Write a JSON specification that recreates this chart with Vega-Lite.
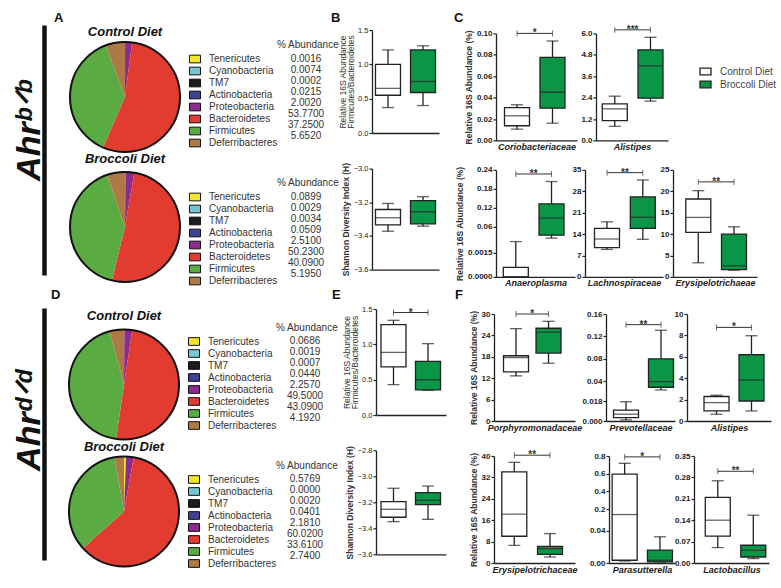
{
"$schema":"https://vega.github.io/schema/vega-lite/v6.json",
"padding":{"left":12,"top":12,"right":2,"bottom":2},
"config":{
 "font":"Liberation Sans",
 "view":{"stroke":null},
 "axis":{"grid":false,"domainColor":"#222","tickColor":"#222","domainWidth":1.3,"tickWidth":1.2,"tickSize":3,"labelColor":"#222","titleColor":"#333","labelFont":"Liberation Sans","titleFont":"Liberation Sans","labelOverlap":false},
 "axisX":{"labels":false,"ticks":false,"titleFontStyle":"italic","titleFontWeight":"bold","titleFontSize":9,"titlePadding":2,"titleColor":"#222"},
 "axisY":{"labelFontSize":8,"labelFontWeight":"bold","labelPadding":1,"labelOverlap":false,"tickCount":12,"titleFontSize":8.5,"titleFontWeight":"bold","titlePadding":3},
 "title":{"font":"Liberation Sans","fontWeight":"bold","color":"#111"},
 "legend":{"labelFont":"Liberation Sans","titleFont":"Liberation Sans"}
},
"datasets":{
 "pAc":[{"phylum":"Tenericutes","pct":0.0016,"val":"0.0016","ord":1},{"phylum":"Cyanobacteria","pct":0.0074,"val":"0.0074","ord":2},{"phylum":"TM7","pct":0.0002,"val":"0.0002","ord":3},{"phylum":"Actinobacteria","pct":0.0215,"val":"0.0215","ord":4},{"phylum":"Proteobacteria","pct":2.002,"val":"2.0020","ord":5},{"phylum":"Bacteroidetes","pct":53.77,"val":"53.7700","ord":6},{"phylum":"Firmicutes","pct":37.25,"val":"37.2500","ord":7},{"phylum":"Deferribacteres","pct":5.652,"val":"5.6520","ord":8}],
 "pAb":[{"phylum":"Tenericutes","pct":0.0899,"val":"0.0899","ord":1},{"phylum":"Cyanobacteria","pct":0.0029,"val":"0.0029","ord":2},{"phylum":"TM7","pct":0.0034,"val":"0.0034","ord":3},{"phylum":"Actinobacteria","pct":0.0509,"val":"0.0509","ord":4},{"phylum":"Proteobacteria","pct":2.51,"val":"2.5100","ord":5},{"phylum":"Bacteroidetes","pct":50.23,"val":"50.2300","ord":6},{"phylum":"Firmicutes","pct":40.09,"val":"40.0900","ord":7},{"phylum":"Deferribacteres","pct":5.195,"val":"5.1950","ord":8}],
 "pDc":[{"phylum":"Tenericutes","pct":0.0686,"val":"0.0686","ord":1},{"phylum":"Cyanobacteria","pct":0.0019,"val":"0.0019","ord":2},{"phylum":"TM7","pct":0.0007,"val":"0.0007","ord":3},{"phylum":"Actinobacteria","pct":0.044,"val":"0.0440","ord":4},{"phylum":"Proteobacteria","pct":2.257,"val":"2.2570","ord":5},{"phylum":"Bacteroidetes","pct":49.5,"val":"49.5000","ord":6},{"phylum":"Firmicutes","pct":43.09,"val":"43.0900","ord":7},{"phylum":"Deferribacteres","pct":4.192,"val":"4.1920","ord":8}],
 "pDb":[{"phylum":"Tenericutes","pct":0.5769,"val":"0.5769","ord":1},{"phylum":"Cyanobacteria","pct":0,"val":"0.0000","ord":2},{"phylum":"TM7","pct":0.002,"val":"0.0020","ord":3},{"phylum":"Actinobacteria","pct":0.0401,"val":"0.0401","ord":4},{"phylum":"Proteobacteria","pct":2.181,"val":"2.1810","ord":5},{"phylum":"Bacteroidetes","pct":60.02,"val":"60.0200","ord":6},{"phylum":"Firmicutes","pct":33.61,"val":"33.6100","ord":7},{"phylum":"Deferribacteres","pct":2.74,"val":"2.7400","ord":8}]
},
"resolve":{"scale":{"color":"independent","fill":"independent","shape":"independent"},"legend":{"color":"independent","fill":"independent","shape":"independent"}},
"spacing":1,
"vconcat":[
{"resolve":{"scale":{"color":"independent","fill":"independent","shape":"independent"},"legend":{"color":"independent","fill":"independent","shape":"independent"}},"spacing":15,"hconcat":[
 {"resolve":{"scale":{"color":"independent","fill":"independent","shape":"independent"},"legend":{"color":"independent","fill":"independent","shape":"independent"}},"spacing":-9,"hconcat":[
  {"resolve":{"scale":{"color":"independent","fill":"independent","shape":"independent"},"legend":{"color":"independent","fill":"independent","shape":"independent"}},"spacing":2,"hconcat":[
   {"width":18,"height":250,"title":{"text":"A","anchor":"start","frame":"group","fontSize":13,"dx":10,"offset":0},
    "data":{"values":[{"v":0.5}]},"mark":{"type":"point","opacity":0},
    "encoding":{"y":{"field":"v","type":"quantitative","scale":{"domain":[0,1]},"axis":{"domain":true,"domainWidth":4.5,"domainColor":"#111","ticks":false,"labels":false,"title":"Ahrᵇᐟᵇ","titleFontSize":34,"titleFontStyle":"italic","titleFontWeight":"bold","titleColor":"#111","titlePadding":5,"titleBaseline":"alphabetic","titleY":105}}}},
   {"resolve":{"scale":{"color":"independent","fill":"independent","shape":"independent"},"legend":{"color":"independent","fill":"independent","shape":"independent"}},"spacing":0,"vconcat":[
    {"width":110,"height":1,"view":{"fill":"transparent","stroke":null},"data":{"values":[{"s":1}]},"mark":{"type":"point","opacity":0,"size":1},"encoding":{}},
    {"resolve":{"scale":{"color":"independent","fill":"independent","shape":"independent"},"legend":{"color":"independent","fill":"independent","shape":"independent"}},"spacing":-3,"vconcat":[
     {"width":110,"height":110,"title":{"text":"Control Diet","fontSize":13,"fontStyle":"italic","frame":"group","offset":-1},"resolve":{"scale":{"theta":"independent"}},"layer":[
      {"data":{"name":"pAc"},"mark":{"type":"arc"},"encoding":{"theta":{"field":"pct","type":"quantitative"},"order":{"field":"ord","type":"quantitative"},"color":{"field":"phylum","type":"nominal","scale":{"domain":["Tenericutes","Cyanobacteria","TM7","Actinobacteria","Proteobacteria","Bacteroidetes","Firmicutes","Deferribacteres"],"range":["#f5e52a","#74c6d3","#1c1c1c","#3f4197","#8e2b8e","#e23b2f","#5aab42","#ad7a45"]},"legend":{"orient":"none","legendX":119,"legendY":11,"title":null,"symbolType":"M-1,-0.7H1V0.7H-1Z","symbolSize":121,"symbolStrokeColor":"#111","symbolStrokeWidth":1,"labelFontSize":10,"labelOffset":8,"rowPadding":-1,"labelColor":"#333","labelLimit":200}}}},
      {"data":{"name":"pAc"},"mark":{"type":"point","opacity":0},"encoding":{"shape":{"field":"val","type":"nominal","sort":{"field":"ord","op":"min"},"legend":{"orient":"none","legendX":207,"legendY":-2,"title":"% Abundance","titleFontSize":10,"titleFontWeight":"normal","titleColor":"#333","titlePadding":3,"symbolType":"square","symbolSize":100,"symbolOpacity":0,"symbolStrokeWidth":1,"labelAlign":"center","labelOffset":18,"labelFontSize":10,"rowPadding":0,"labelColor":"#333"}}}},
      {"data":{"values":[{"o":1}]},"mark":{"type":"arc","fillOpacity":0,"stroke":"#111","strokeWidth":2},"encoding":{"theta":{"field":"o","type":"quantitative"}}}
     ]},
     {"width":110,"height":110,"title":{"text":"Broccoli Diet","fontSize":13,"fontStyle":"italic","frame":"group","offset":2},"resolve":{"scale":{"theta":"independent"}},"layer":[
      {"data":{"name":"pAb"},"mark":{"type":"arc"},"encoding":{"theta":{"field":"pct","type":"quantitative"},"order":{"field":"ord","type":"quantitative"},"color":{"field":"phylum","type":"nominal","scale":{"domain":["Tenericutes","Cyanobacteria","TM7","Actinobacteria","Proteobacteria","Bacteroidetes","Firmicutes","Deferribacteres"],"range":["#f5e52a","#74c6d3","#1c1c1c","#3f4197","#8e2b8e","#e23b2f","#5aab42","#ad7a45"]},"legend":{"orient":"none","legendX":119,"legendY":19,"title":null,"symbolType":"M-1,-0.7H1V0.7H-1Z","symbolSize":121,"symbolStrokeColor":"#111","symbolStrokeWidth":1,"labelFontSize":10,"labelOffset":8,"rowPadding":-1,"labelColor":"#333","labelLimit":200}}}},
      {"data":{"name":"pAb"},"mark":{"type":"point","opacity":0},"encoding":{"shape":{"field":"val","type":"nominal","sort":{"field":"ord","op":"min"},"legend":{"orient":"none","legendX":207,"legendY":6,"title":"% Abundance","titleFontSize":10,"titleFontWeight":"normal","titleColor":"#333","titlePadding":3,"symbolType":"square","symbolSize":100,"symbolOpacity":0,"symbolStrokeWidth":1,"labelAlign":"center","labelOffset":18,"labelFontSize":10,"rowPadding":0,"labelColor":"#333"}}}},
      {"data":{"values":[{"o":1}]},"mark":{"type":"arc","fillOpacity":0,"stroke":"#111","strokeWidth":2},"encoding":{"theta":{"field":"o","type":"quantitative"}}}
     ]}
    ]}
   ]}
  ]},
  {"resolve":{"scale":{"color":"independent","fill":"independent","shape":"independent"},"legend":{"color":"independent","fill":"independent","shape":"independent"}},"spacing":0,"vconcat":[
   {"width":67,"height":1,"view":{"fill":"transparent","stroke":null},"title":{"text":"B","anchor":"start","frame":"group","fontSize":13,"dx":-41,"offset":0},"data":{"values":[{"s":1}]},"mark":{"type":"point","opacity":0,"size":1},"encoding":{}},
   {"resolve":{"scale":{"color":"independent","fill":"independent","shape":"independent"},"legend":{"color":"independent","fill":"independent","shape":"independent"}},"spacing":24.6,"vconcat":[
    {"width":67,"height":103,
     "data":{"values":[{"diet":"Control","lo":0.37,"q1":0.55,"med":0.65,"q3":1.0,"hi":1.21},{"diet":"Broccoli","lo":0.40,"q1":0.59,"med":0.75,"q3":1.21,"hi":1.27}]},
     "encoding":{"x":{"field":"diet","type":"nominal","scale":{"domain":["Control","Broccoli"],"paddingInner":0.3,"paddingOuter":0.107,"align":0.5},"axis":{"title":null}}},
     "layer":[
      {"mark":{"type":"rule","color":"#222","strokeWidth":1.3},"encoding":{"y":{"field":"lo","type":"quantitative","scale":{"domain":[0,1.5],"nice":false,"zero":false},"axis":{"values":[0,0.5,1,1.5],"tickCount":12,"format":".1f","title":["Relative 16S Abundance","Firmicutes/Bacteroidetes"],"titleFontWeight":"normal","titleLineHeight":8,"labelFontWeight":"normal","labelFontSize":7.5,"titlePadding":2,"labelOverlap":false}},"y2":{"field":"hi"}}},
      {"mark":{"type":"tick","color":"#222","thickness":1.3,"size":12},"encoding":{"y":{"field":"lo","type":"quantitative"}}},
      {"mark":{"type":"tick","color":"#222","thickness":1.3,"size":12},"encoding":{"y":{"field":"hi","type":"quantitative"}}},
      {"mark":{"type":"bar","width":25,"stroke":"#222","strokeWidth":1.3},"encoding":{"y":{"field":"q1","type":"quantitative"},"y2":{"field":"q3"},"fill":{"field":"diet","type":"nominal","scale":{"domain":["Control","Broccoli"],"range":["#ffffff","#0a9646"]},"legend":null}}},
      {"mark":{"type":"tick","color":"#222","thickness":1.3,"size":25},"encoding":{"y":{"field":"med","type":"quantitative"}}}
     ]},
    {"width":67,"height":101,
     "data":{"values":[{"diet":"Control","lo":-3.372,"q1":-3.334,"med":-3.292,"q3":-3.243,"hi":-3.207},{"diet":"Broccoli","lo":-3.342,"q1":-3.328,"med":-3.256,"q3":-3.19,"hi":-3.167}]},
     "encoding":{"x":{"field":"diet","type":"nominal","scale":{"domain":["Control","Broccoli"],"paddingInner":0.3,"paddingOuter":0.107,"align":0.5},"axis":{"title":null}}},
     "layer":[
      {"mark":{"type":"rule","color":"#222","strokeWidth":1.3},"encoding":{"y":{"field":"lo","type":"quantitative","scale":{"domain":[-3.6,-3.0],"nice":false,"zero":false},"axis":{"values":[-3.6,-3.4,-3.2,-3.0],"tickCount":12,"format":".1f","title":"Shannon Diversity Index (H)","labelFontWeight":"normal","labelFontSize":7.5,"labelOverlap":false}},"y2":{"field":"hi"}}},
      {"mark":{"type":"tick","color":"#222","thickness":1.3,"size":12},"encoding":{"y":{"field":"lo","type":"quantitative"}}},
      {"mark":{"type":"tick","color":"#222","thickness":1.3,"size":12},"encoding":{"y":{"field":"hi","type":"quantitative"}}},
      {"mark":{"type":"bar","width":25,"stroke":"#222","strokeWidth":1.3},"encoding":{"y":{"field":"q1","type":"quantitative"},"y2":{"field":"q3"},"fill":{"field":"diet","type":"nominal","scale":{"domain":["Control","Broccoli"],"range":["#ffffff","#0a9646"]},"legend":null}}},
      {"mark":{"type":"tick","color":"#222","thickness":1.3,"size":25},"encoding":{"y":{"field":"med","type":"quantitative"}}}
     ]}
   ]}
  ]}
 ]},
 {"resolve":{"scale":{"color":"independent","fill":"independent","shape":"independent"},"legend":{"color":"independent","fill":"independent","shape":"independent"}},"spacing":-1.6,"vconcat":[
  {"width":81,"height":1,"view":{"fill":"transparent","stroke":null},"title":{"text":"C","anchor":"start","frame":"group","fontSize":13,"dx":-42,"offset":0},"data":{"values":[{"s":1}]},"mark":{"type":"point","opacity":0,"size":1},"encoding":{}},
  {"resolve":{"scale":{"color":"independent","fill":"independent","shape":"independent"},"legend":{"color":"independent","fill":"independent","shape":"independent"}},"spacing":14.5,"vconcat":[
   {"resolve":{"scale":{"color":"independent","fill":"independent","shape":"independent"},"legend":{"color":"independent","fill":"independent","shape":"independent"}},"spacing":3,"hconcat":[
    {"width":81,"height":107,
     "data":{"values":[{"diet":"Control","lo":0.0105,"q1":0.0137,"med":0.023,"q3":0.0307,"hi":0.0333},{"diet":"Broccoli","lo":0.0161,"q1":0.0301,"med":0.045,"q3":0.0776,"hi":0.0929}]},
     "encoding":{"x":{"field":"diet","type":"nominal","scale":{"domain":["Control","Broccoli"],"paddingInner":0.3,"paddingOuter":0.291,"align":0.415},"axis":{"title":"Coriobacteriaceae"}}},
     "layer":[
      {"mark":{"type":"rule","color":"#222","strokeWidth":1.3},"encoding":{"y":{"field":"lo","type":"quantitative","scale":{"domain":[0,0.1],"nice":false,"zero":false},"axis":{"values":[0,0.02,0.04,0.06,0.08,0.1],"tickCount":12,"format":".2f","title":"Relative 16S Abundance (%)","labelOverlap":false}},"y2":{"field":"hi"}}},
      {"mark":{"type":"tick","color":"#222","thickness":1.3,"size":12},"encoding":{"y":{"field":"lo","type":"quantitative"}}},
      {"mark":{"type":"tick","color":"#222","thickness":1.3,"size":12},"encoding":{"y":{"field":"hi","type":"quantitative"}}},
      {"mark":{"type":"bar","width":25,"stroke":"#222","strokeWidth":1.3},"encoding":{"y":{"field":"q1","type":"quantitative"},"y2":{"field":"q3"},"fill":{"field":"diet","type":"nominal","scale":{"domain":["Control","Broccoli"],"range":["#ffffff","#0a9646"]},"legend":null}}},
      {"mark":{"type":"tick","color":"#222","thickness":1.3,"size":25},"encoding":{"y":{"field":"med","type":"quantitative"}}},
      {"data":{"values":[{"a":"Control","b":"Broccoli","y":0.1,"s":"*"}]},"layer":[
       {"mark":{"type":"rule","color":"#333","strokeWidth":1},"encoding":{"x":{"field":"a","type":"nominal"},"x2":{"field":"b"},"y":{"field":"y","type":"quantitative"}}},
       {"mark":{"type":"tick","orient":"vertical","color":"#333","thickness":1,"size":6},"encoding":{"x":{"field":"a","type":"nominal"},"y":{"field":"y","type":"quantitative"}}},
       {"mark":{"type":"tick","orient":"vertical","color":"#333","thickness":1,"size":6},"encoding":{"x":{"field":"b","type":"nominal"},"y":{"field":"y","type":"quantitative"}}},
       {"mark":{"type":"text","fontSize":10,"fontWeight":"bold","color":"#333","baseline":"alphabetic","dy":3},"encoding":{"x":{"field":"a","type":"nominal","bandPosition":1.2143},"y":{"field":"y","type":"quantitative"},"text":{"field":"s"}}}
      ]}
     ]},
    {"width":72,"height":107,
     "data":{"values":[{"diet":"Control","lo":0.79,"q1":1.11,"med":1.77,"q3":2.05,"hi":2.48},{"diet":"Broccoli","lo":2.2,"q1":2.37,"med":4.18,"q3":5.08,"hi":5.78}]},
     "encoding":{"x":{"field":"diet","type":"nominal","scale":{"domain":["Control","Broccoli"],"paddingInner":0.3,"paddingOuter":0.158,"align":0.557},"axis":{"title":"Alistipes"}}},
     "layer":[
      {"mark":{"type":"rule","color":"#222","strokeWidth":1.3},"encoding":{"y":{"field":"lo","type":"quantitative","scale":{"domain":[0,6],"nice":false,"zero":false},"axis":{"values":[0,1.2,2.4,3.6,4.8,6],"tickCount":12,"format":".1f","title":null,"labelOverlap":false}},"y2":{"field":"hi"}}},
      {"mark":{"type":"tick","color":"#222","thickness":1.3,"size":12},"encoding":{"y":{"field":"lo","type":"quantitative"}}},
      {"mark":{"type":"tick","color":"#222","thickness":1.3,"size":12},"encoding":{"y":{"field":"hi","type":"quantitative"}}},
      {"mark":{"type":"bar","width":25,"stroke":"#222","strokeWidth":1.3},"encoding":{"y":{"field":"q1","type":"quantitative"},"y2":{"field":"q3"},"fill":{"field":"diet","type":"nominal","scale":{"domain":["Control","Broccoli"],"range":["#ffffff","#0a9646"]},"legend":{"orient":"none","legendX":103,"legendY":31.6,"title":null,"symbolType":"M-1,-0.6H1V0.6H-1Z","symbolSize":121,"symbolStrokeColor":"#222","symbolStrokeWidth":1.3,"labelFontSize":10,"labelOffset":8,"rowPadding":0,"labelColor":"#444","labelExpr":"datum.label + ' Diet'"}}}},
      {"mark":{"type":"tick","color":"#222","thickness":1.3,"size":25},"encoding":{"y":{"field":"med","type":"quantitative"}}},
      {"data":{"values":[{"a":"Control","b":"Broccoli","y":6.2,"s":"***"}]},"layer":[
       {"mark":{"type":"rule","color":"#333","strokeWidth":1},"encoding":{"x":{"field":"a","type":"nominal"},"x2":{"field":"b"},"y":{"field":"y","type":"quantitative"}}},
       {"mark":{"type":"tick","orient":"vertical","color":"#333","thickness":1,"size":6},"encoding":{"x":{"field":"a","type":"nominal"},"y":{"field":"y","type":"quantitative"}}},
       {"mark":{"type":"tick","orient":"vertical","color":"#333","thickness":1,"size":6},"encoding":{"x":{"field":"b","type":"nominal"},"y":{"field":"y","type":"quantitative"}}},
       {"mark":{"type":"text","fontSize":10,"fontWeight":"bold","color":"#333","baseline":"alphabetic","dy":3},"encoding":{"x":{"field":"a","type":"nominal","bandPosition":1.2143},"y":{"field":"y","type":"quantitative"},"text":{"field":"s"}}}
      ]}
     ]}
   ]},
   {"resolve":{"scale":{"color":"independent","fill":"independent","shape":"independent"},"legend":{"color":"independent","fill":"independent","shape":"independent"}},"spacing":-3,"hconcat":[
    {"width":79,"height":107,
     "data":{"values":[{"diet":"Control","lo":0,"q1":0,"med":0,"q3":0.0006,"hi":0.0124},{"diet":"Broccoli","lo":0.0232,"q1":0.0327,"med":0.0868,"q3":0.132,"hi":0.203}]},
     "encoding":{"x":{"field":"diet","type":"nominal","scale":{"domain":["Control","Broccoli"],"paddingInner":0.3,"paddingOuter":0.256,"align":0.399},"axis":{"title":"Anaeroplasma"}}},
     "layer":[
      {"mark":{"type":"rule","color":"#222","strokeWidth":1.3},"encoding":{"y":{"field":"lo","type":"quantitative","scale":{"domain":[0,0.0018,0.005,0.24],"range":[107,78.3,74,0],"nice":false,"zero":false},"axis":{"values":[0,0.0015,0.06,0.12,0.18,0.24],"tickCount":12,"labelExpr":"datum.value < 0.01 ? format(datum.value, '.4f') : format(datum.value, '.2f')","title":"Relative 16S Abundance (%)","labelOverlap":false}},"y2":{"field":"hi"}}},
      {"mark":{"type":"tick","color":"#222","thickness":1.3,"size":12},"encoding":{"y":{"field":"lo","type":"quantitative"}}},
      {"mark":{"type":"tick","color":"#222","thickness":1.3,"size":12},"encoding":{"y":{"field":"hi","type":"quantitative"}}},
      {"mark":{"type":"bar","width":25,"stroke":"#222","strokeWidth":1.3},"encoding":{"y":{"field":"q1","type":"quantitative"},"y2":{"field":"q3"},"fill":{"field":"diet","type":"nominal","scale":{"domain":["Control","Broccoli"],"range":["#ffffff","#0a9646"]},"legend":null}}},
      {"mark":{"type":"tick","color":"#222","thickness":1.3,"size":25},"encoding":{"y":{"field":"med","type":"quantitative"}}},
      {"data":{"values":[{"a":"Control","b":"Broccoli","y":0.227,"s":"**"}]},"layer":[
       {"mark":{"type":"rule","color":"#333","strokeWidth":1},"encoding":{"x":{"field":"a","type":"nominal"},"x2":{"field":"b"},"y":{"field":"y","type":"quantitative"}}},
       {"mark":{"type":"tick","orient":"vertical","color":"#333","thickness":1,"size":6},"encoding":{"x":{"field":"a","type":"nominal"},"y":{"field":"y","type":"quantitative"}}},
       {"mark":{"type":"tick","orient":"vertical","color":"#333","thickness":1,"size":6},"encoding":{"x":{"field":"b","type":"nominal"},"y":{"field":"y","type":"quantitative"}}},
       {"mark":{"type":"text","fontSize":10,"fontWeight":"bold","color":"#333","baseline":"alphabetic","dy":3},"encoding":{"x":{"field":"a","type":"nominal","bandPosition":1.2143},"y":{"field":"y","type":"quantitative"},"text":{"field":"s"}}}
      ]}
     ]},
    {"width":78,"height":107,
     "data":{"values":[{"diet":"Control","lo":9.0,"q1":9.6,"med":12.4,"q3":15.9,"hi":18.0},{"diet":"Broccoli","lo":12.3,"q1":15.9,"med":19.5,"q3":26.2,"hi":31.7}]},
     "encoding":{"x":{"field":"diet","type":"nominal","scale":{"domain":["Control","Broccoli"],"paddingInner":0.3,"paddingOuter":0.239,"align":0.553},"axis":{"title":"Lachnospiraceae"}}},
     "layer":[
      {"mark":{"type":"rule","color":"#222","strokeWidth":1.3},"encoding":{"y":{"field":"lo","type":"quantitative","scale":{"domain":[0,35],"nice":false,"zero":false},"axis":{"values":[0,7,14,21,28,35],"tickCount":12,"format":"d","title":null,"labelOverlap":false}},"y2":{"field":"hi"}}},
      {"mark":{"type":"tick","color":"#222","thickness":1.3,"size":12},"encoding":{"y":{"field":"lo","type":"quantitative"}}},
      {"mark":{"type":"tick","color":"#222","thickness":1.3,"size":12},"encoding":{"y":{"field":"hi","type":"quantitative"}}},
      {"mark":{"type":"bar","width":25,"stroke":"#222","strokeWidth":1.3},"encoding":{"y":{"field":"q1","type":"quantitative"},"y2":{"field":"q3"},"fill":{"field":"diet","type":"nominal","scale":{"domain":["Control","Broccoli"],"range":["#ffffff","#0a9646"]},"legend":null}}},
      {"mark":{"type":"tick","color":"#222","thickness":1.3,"size":25},"encoding":{"y":{"field":"med","type":"quantitative"}}},
      {"data":{"values":[{"a":"Control","b":"Broccoli","y":34.1,"s":"**"}]},"layer":[
       {"mark":{"type":"rule","color":"#333","strokeWidth":1},"encoding":{"x":{"field":"a","type":"nominal"},"x2":{"field":"b"},"y":{"field":"y","type":"quantitative"}}},
       {"mark":{"type":"tick","orient":"vertical","color":"#333","thickness":1,"size":6},"encoding":{"x":{"field":"a","type":"nominal"},"y":{"field":"y","type":"quantitative"}}},
       {"mark":{"type":"tick","orient":"vertical","color":"#333","thickness":1,"size":6},"encoding":{"x":{"field":"b","type":"nominal"},"y":{"field":"y","type":"quantitative"}}},
       {"mark":{"type":"text","fontSize":10,"fontWeight":"bold","color":"#333","baseline":"alphabetic","dy":3},"encoding":{"x":{"field":"a","type":"nominal","bandPosition":1.2143},"y":{"field":"y","type":"quantitative"},"text":{"field":"s"}}}
      ]}
     ]},
    {"width":84,"height":107,
     "data":{"values":[{"diet":"Control","lo":3.3,"q1":10.4,"med":13.9,"q3":18.2,"hi":20.15},{"diet":"Broccoli","lo":1.57,"q1":1.7,"med":2.6,"q3":10.0,"hi":11.7}]},
     "encoding":{"x":{"field":"diet","type":"nominal","scale":{"domain":["Control","Broccoli"],"paddingInner":0.3,"paddingOuter":0.326,"align":0.549},"axis":{"title":"Erysipelotrichaeae"}}},
     "layer":[
      {"mark":{"type":"rule","color":"#222","strokeWidth":1.3},"encoding":{"y":{"field":"lo","type":"quantitative","scale":{"domain":[0,25],"nice":false,"zero":false},"axis":{"values":[0,5,10,15,20,25],"tickCount":12,"format":"d","title":null,"labelOverlap":false}},"y2":{"field":"hi"}}},
      {"mark":{"type":"tick","color":"#222","thickness":1.3,"size":12},"encoding":{"y":{"field":"lo","type":"quantitative"}}},
      {"mark":{"type":"tick","color":"#222","thickness":1.3,"size":12},"encoding":{"y":{"field":"hi","type":"quantitative"}}},
      {"mark":{"type":"bar","width":25,"stroke":"#222","strokeWidth":1.3},"encoding":{"y":{"field":"q1","type":"quantitative"},"y2":{"field":"q3"},"fill":{"field":"diet","type":"nominal","scale":{"domain":["Control","Broccoli"],"range":["#ffffff","#0a9646"]},"legend":null}}},
      {"mark":{"type":"tick","color":"#222","thickness":1.3,"size":25},"encoding":{"y":{"field":"med","type":"quantitative"}}},
      {"data":{"values":[{"a":"Control","b":"Broccoli","y":22.2,"s":"**"}]},"layer":[
       {"mark":{"type":"rule","color":"#333","strokeWidth":1},"encoding":{"x":{"field":"a","type":"nominal"},"x2":{"field":"b"},"y":{"field":"y","type":"quantitative"}}},
       {"mark":{"type":"tick","orient":"vertical","color":"#333","thickness":1,"size":6},"encoding":{"x":{"field":"a","type":"nominal"},"y":{"field":"y","type":"quantitative"}}},
       {"mark":{"type":"tick","orient":"vertical","color":"#333","thickness":1,"size":6},"encoding":{"x":{"field":"b","type":"nominal"},"y":{"field":"y","type":"quantitative"}}},
       {"mark":{"type":"text","fontSize":10,"fontWeight":"bold","color":"#333","baseline":"alphabetic","dy":3},"encoding":{"x":{"field":"a","type":"nominal","bandPosition":1.2143},"y":{"field":"y","type":"quantitative"},"text":{"field":"s"}}}
      ]}
     ]}
   ]}
  ]}
 ]}
]},
{"resolve":{"scale":{"color":"independent","fill":"independent","shape":"independent"},"legend":{"color":"independent","fill":"independent","shape":"independent"}},"spacing":9,"hconcat":[
 {"resolve":{"scale":{"color":"independent","fill":"independent","shape":"independent"},"legend":{"color":"independent","fill":"independent","shape":"independent"}},"spacing":-7,"hconcat":[
  {"resolve":{"scale":{"color":"independent","fill":"independent","shape":"independent"},"legend":{"color":"independent","fill":"independent","shape":"independent"}},"spacing":3,"hconcat":[
   {"width":18,"height":252,"title":{"text":"D","anchor":"start","frame":"group","fontSize":13,"dx":7,"offset":6},
    "data":{"values":[{"v":0.5}]},"mark":{"type":"point","opacity":0},
    "encoding":{"y":{"field":"v","type":"quantitative","scale":{"domain":[0,1]},"axis":{"domain":true,"domainWidth":4.5,"domainColor":"#111","ticks":false,"labels":false,"title":"Ahrᵈᐟᵈ","titleFontSize":34,"titleFontStyle":"italic","titleFontWeight":"bold","titleColor":"#111","titlePadding":5,"titleBaseline":"alphabetic","titleY":112}}}},
   {"resolve":{"scale":{"color":"independent","fill":"independent","shape":"independent"},"legend":{"color":"independent","fill":"independent","shape":"independent"}},"spacing":0.5,"vconcat":[
    {"width":110,"height":1,"view":{"fill":"transparent","stroke":null},"data":{"values":[{"s":1}]},"mark":{"type":"point","opacity":0,"size":1},"encoding":{}},
    {"resolve":{"scale":{"color":"independent","fill":"independent","shape":"independent"},"legend":{"color":"independent","fill":"independent","shape":"independent"}},"spacing":-3,"vconcat":[
     {"width":110,"height":110,"title":{"text":"Control Diet","fontSize":13,"fontStyle":"italic","frame":"group","offset":0},"resolve":{"scale":{"theta":"independent"}},"layer":[
      {"data":{"name":"pDc"},"mark":{"type":"arc"},"encoding":{"theta":{"field":"pct","type":"quantitative"},"order":{"field":"ord","type":"quantitative"},"color":{"field":"phylum","type":"nominal","scale":{"domain":["Tenericutes","Cyanobacteria","TM7","Actinobacteria","Proteobacteria","Bacteroidetes","Firmicutes","Deferribacteres"],"range":["#f5e52a","#74c6d3","#1c1c1c","#3f4197","#8e2b8e","#e23b2f","#5aab42","#ad7a45"]},"legend":{"orient":"none","legendX":119,"legendY":6,"title":null,"symbolType":"M-1,-0.7H1V0.7H-1Z","symbolSize":121,"symbolStrokeColor":"#111","symbolStrokeWidth":1,"labelFontSize":10,"labelOffset":8,"rowPadding":-1,"labelColor":"#333","labelLimit":200}}}},
      {"data":{"name":"pDc"},"mark":{"type":"point","opacity":0},"encoding":{"shape":{"field":"val","type":"nominal","sort":{"field":"ord","op":"min"},"legend":{"orient":"none","legendX":207,"legendY":-7,"title":"% Abundance","titleFontSize":10,"titleFontWeight":"normal","titleColor":"#333","titlePadding":3,"symbolType":"square","symbolSize":100,"symbolOpacity":0,"symbolStrokeWidth":1,"labelAlign":"center","labelOffset":18,"labelFontSize":10,"rowPadding":0,"labelColor":"#333"}}}},
      {"data":{"values":[{"o":1}]},"mark":{"type":"arc","fillOpacity":0,"stroke":"#111","strokeWidth":2},"encoding":{"theta":{"field":"o","type":"quantitative"}}}
     ]},
     {"width":110,"height":110,"title":{"text":"Broccoli Diet","fontSize":13,"fontStyle":"italic","frame":"group","offset":-1},"resolve":{"scale":{"theta":"independent"}},"layer":[
      {"data":{"name":"pDb"},"mark":{"type":"arc"},"encoding":{"theta":{"field":"pct","type":"quantitative"},"order":{"field":"ord","type":"quantitative"},"color":{"field":"phylum","type":"nominal","scale":{"domain":["Tenericutes","Cyanobacteria","TM7","Actinobacteria","Proteobacteria","Bacteroidetes","Firmicutes","Deferribacteres"],"range":["#f5e52a","#74c6d3","#1c1c1c","#3f4197","#8e2b8e","#e23b2f","#5aab42","#ad7a45"]},"legend":{"orient":"none","legendX":119,"legendY":17,"title":null,"symbolType":"M-1,-0.7H1V0.7H-1Z","symbolSize":121,"symbolStrokeColor":"#111","symbolStrokeWidth":1,"labelFontSize":10,"labelOffset":8,"rowPadding":-1,"labelColor":"#333","labelLimit":200}}}},
      {"data":{"name":"pDb"},"mark":{"type":"point","opacity":0},"encoding":{"shape":{"field":"val","type":"nominal","sort":{"field":"ord","op":"min"},"legend":{"orient":"none","legendX":207,"legendY":4,"title":"% Abundance","titleFontSize":10,"titleFontWeight":"normal","titleColor":"#333","titlePadding":3,"symbolType":"square","symbolSize":100,"symbolOpacity":0,"symbolStrokeWidth":1,"labelAlign":"center","labelOffset":18,"labelFontSize":10,"rowPadding":0,"labelColor":"#333"}}}},
      {"data":{"values":[{"o":1}]},"mark":{"type":"arc","fillOpacity":0,"stroke":"#111","strokeWidth":2},"encoding":{"theta":{"field":"o","type":"quantitative"}}}
     ]}
    ]}
   ]}
  ]},
  {"resolve":{"scale":{"color":"independent","fill":"independent","shape":"independent"},"legend":{"color":"independent","fill":"independent","shape":"independent"}},"spacing":-8.5,"vconcat":[
   {"width":70,"height":1,"view":{"fill":"transparent","stroke":null},"title":{"text":"E","anchor":"start","frame":"group","fontSize":13,"dx":-44,"offset":6},"data":{"values":[{"s":1}]},"mark":{"type":"point","opacity":0,"size":1},"encoding":{}},
   {"resolve":{"scale":{"color":"independent","fill":"independent","shape":"independent"},"legend":{"color":"independent","fill":"independent","shape":"independent"}},"spacing":26.3,"vconcat":[
    {"width":70,"height":106,
     "data":{"values":[{"diet":"Control","lo":0.43,"q1":0.68,"med":0.886,"q3":1.28,"hi":1.34},{"diet":"Broccoli","lo":0.35,"q1":0.355,"med":0.50,"q3":0.76,"hi":1.01}]},
     "encoding":{"x":{"field":"diet","type":"nominal","scale":{"domain":["Control","Broccoli"],"paddingInner":0.3,"paddingOuter":0.164,"align":0.478},"axis":{"title":null}}},
     "layer":[
      {"mark":{"type":"rule","color":"#222","strokeWidth":1.3},"encoding":{"y":{"field":"lo","type":"quantitative","scale":{"domain":[0,1.5],"nice":false,"zero":false},"axis":{"values":[0,0.5,1,1.5],"tickCount":12,"format":".1f","title":["Relative 16S Abundance","Firmicutes/Bacteroidetes"],"titleFontWeight":"normal","titleLineHeight":8,"labelFontWeight":"normal","labelFontSize":7.5,"titlePadding":2,"labelOverlap":false}},"y2":{"field":"hi"}}},
      {"mark":{"type":"tick","color":"#222","thickness":1.3,"size":12},"encoding":{"y":{"field":"lo","type":"quantitative"}}},
      {"mark":{"type":"tick","color":"#222","thickness":1.3,"size":12},"encoding":{"y":{"field":"hi","type":"quantitative"}}},
      {"mark":{"type":"bar","width":25,"stroke":"#222","strokeWidth":1.3},"encoding":{"y":{"field":"q1","type":"quantitative"},"y2":{"field":"q3"},"fill":{"field":"diet","type":"nominal","scale":{"domain":["Control","Broccoli"],"range":["#ffffff","#0a9646"]},"legend":null}}},
      {"mark":{"type":"tick","color":"#222","thickness":1.3,"size":25},"encoding":{"y":{"field":"med","type":"quantitative"}}},
      {"data":{"values":[{"a":"Control","b":"Broccoli","y":1.45,"s":"*"}]},"layer":[
       {"mark":{"type":"rule","color":"#333","strokeWidth":1},"encoding":{"x":{"field":"a","type":"nominal"},"x2":{"field":"b"},"y":{"field":"y","type":"quantitative"}}},
       {"mark":{"type":"tick","orient":"vertical","color":"#333","thickness":1,"size":6},"encoding":{"x":{"field":"a","type":"nominal"},"y":{"field":"y","type":"quantitative"}}},
       {"mark":{"type":"tick","orient":"vertical","color":"#333","thickness":1,"size":6},"encoding":{"x":{"field":"b","type":"nominal"},"y":{"field":"y","type":"quantitative"}}},
       {"mark":{"type":"text","fontSize":10,"fontWeight":"bold","color":"#333","baseline":"alphabetic","dy":3},"encoding":{"x":{"field":"a","type":"nominal","bandPosition":1.2143},"y":{"field":"y","type":"quantitative"},"text":{"field":"s"}}}
      ]}
     ]},
    {"width":70,"height":104,
     "data":{"values":[{"diet":"Control","lo":-3.349,"q1":-3.315,"med":-3.254,"q3":-3.195,"hi":-3.092},{"diet":"Broccoli","lo":-3.331,"q1":-3.218,"med":-3.185,"q3":-3.126,"hi":-3.075}]},
     "encoding":{"x":{"field":"diet","type":"nominal","scale":{"domain":["Control","Broccoli"],"paddingInner":0.3,"paddingOuter":0.164,"align":0.478},"axis":{"title":null}}},
     "layer":[
      {"mark":{"type":"rule","color":"#222","strokeWidth":1.3},"encoding":{"y":{"field":"lo","type":"quantitative","scale":{"domain":[-3.6,-2.8],"nice":false,"zero":false},"axis":{"values":[-3.6,-3.4,-3.2,-3.0,-2.8],"tickCount":12,"format":".1f","title":"Shannon Diversity Index (H)","labelFontWeight":"normal","labelFontSize":7.5,"labelOverlap":false}},"y2":{"field":"hi"}}},
      {"mark":{"type":"tick","color":"#222","thickness":1.3,"size":12},"encoding":{"y":{"field":"lo","type":"quantitative"}}},
      {"mark":{"type":"tick","color":"#222","thickness":1.3,"size":12},"encoding":{"y":{"field":"hi","type":"quantitative"}}},
      {"mark":{"type":"bar","width":25,"stroke":"#222","strokeWidth":1.3},"encoding":{"y":{"field":"q1","type":"quantitative"},"y2":{"field":"q3"},"fill":{"field":"diet","type":"nominal","scale":{"domain":["Control","Broccoli"],"range":["#ffffff","#0a9646"]},"legend":null}}},
      {"mark":{"type":"tick","color":"#222","thickness":1.3,"size":25},"encoding":{"y":{"field":"med","type":"quantitative"}}}
     ]}
   ]}
  ]}
 ]},
 {"resolve":{"scale":{"color":"independent","fill":"independent","shape":"independent"},"legend":{"color":"independent","fill":"independent","shape":"independent"}},"spacing":0,"vconcat":[
  {"width":81,"height":1,"view":{"fill":"transparent","stroke":null},"title":{"text":"F","anchor":"start","frame":"group","fontSize":13,"dx":-39,"offset":6},"data":{"values":[{"s":1}]},"mark":{"type":"point","opacity":0,"size":1},"encoding":{}},
  {"resolve":{"scale":{"color":"independent","fill":"independent","shape":"independent"},"legend":{"color":"independent","fill":"independent","shape":"independent"}},"spacing":18,"vconcat":[
   {"resolve":{"scale":{"color":"independent","fill":"independent","shape":"independent"},"legend":{"color":"independent","fill":"independent","shape":"independent"}},"spacing":-1,"hconcat":[
    {"width":81,"height":107,
     "data":{"values":[{"diet":"Control","lo":12.65,"q1":13.8,"med":17.8,"q3":18.3,"hi":25.9},{"diet":"Broccoli","lo":16.2,"q1":19.05,"med":24.9,"q3":26.0,"hi":27.95}]},
     "encoding":{"x":{"field":"diet","type":"nominal","scale":{"domain":["Control","Broccoli"],"paddingInner":0.3,"paddingOuter":0.396,"align":0.413},"axis":{"title":"Porphyromonadaceae"}}},
     "layer":[
      {"mark":{"type":"rule","color":"#222","strokeWidth":1.3},"encoding":{"y":{"field":"lo","type":"quantitative","scale":{"domain":[0,30],"nice":false,"zero":false},"axis":{"values":[0,6,12,18,24,30],"tickCount":12,"format":"d","title":"Relative 16S Abundance (%)","labelOverlap":false}},"y2":{"field":"hi"}}},
      {"mark":{"type":"tick","color":"#222","thickness":1.3,"size":12},"encoding":{"y":{"field":"lo","type":"quantitative"}}},
      {"mark":{"type":"tick","color":"#222","thickness":1.3,"size":12},"encoding":{"y":{"field":"hi","type":"quantitative"}}},
      {"mark":{"type":"bar","width":25,"stroke":"#222","strokeWidth":1.3},"encoding":{"y":{"field":"q1","type":"quantitative"},"y2":{"field":"q3"},"fill":{"field":"diet","type":"nominal","scale":{"domain":["Control","Broccoli"],"range":["#ffffff","#0a9646"]},"legend":null}}},
      {"mark":{"type":"tick","color":"#222","thickness":1.3,"size":25},"encoding":{"y":{"field":"med","type":"quantitative"}}},
      {"data":{"values":[{"a":"Control","b":"Broccoli","y":30,"s":"*"}]},"layer":[
       {"mark":{"type":"rule","color":"#333","strokeWidth":1},"encoding":{"x":{"field":"a","type":"nominal"},"x2":{"field":"b"},"y":{"field":"y","type":"quantitative"}}},
       {"mark":{"type":"tick","orient":"vertical","color":"#333","thickness":1,"size":6},"encoding":{"x":{"field":"a","type":"nominal"},"y":{"field":"y","type":"quantitative"}}},
       {"mark":{"type":"tick","orient":"vertical","color":"#333","thickness":1,"size":6},"encoding":{"x":{"field":"b","type":"nominal"},"y":{"field":"y","type":"quantitative"}}},
       {"mark":{"type":"text","fontSize":10,"fontWeight":"bold","color":"#333","baseline":"alphabetic","dy":3},"encoding":{"x":{"field":"a","type":"nominal","bandPosition":1.2143},"y":{"field":"y","type":"quantitative"},"text":{"field":"s"}}}
      ]}
     ]},
    {"width":69,"height":107,
     "data":{"values":[{"diet":"Control","lo":0.001,"q1":0.0031,"med":0.0062,"q3":0.0099,"hi":0.0176},{"diet":"Broccoli","lo":0.0244,"q1":0.0292,"med":0.0393,"q3":0.080,"hi":0.131}]},
     "encoding":{"x":{"field":"diet","type":"nominal","scale":{"domain":["Control","Broccoli"],"paddingInner":0.3,"paddingOuter":0.136,"align":0.816},"axis":{"title":"Prevotellaceae"}}},
     "layer":[
      {"mark":{"type":"rule","color":"#222","strokeWidth":1.3},"encoding":{"y":{"field":"lo","type":"quantitative","scale":{"domain":[0,0.02,0.022,0.16],"range":[107,85.1,77.3,0],"nice":false,"zero":false},"axis":{"values":[0,0.018,0.04,0.08,0.12,0.16],"tickCount":12,"labelExpr":"datum.value < 0.03 ? format(datum.value, '.3f') : format(datum.value, '.2f')","title":null,"labelOverlap":false}},"y2":{"field":"hi"}}},
      {"mark":{"type":"tick","color":"#222","thickness":1.3,"size":12},"encoding":{"y":{"field":"lo","type":"quantitative"}}},
      {"mark":{"type":"tick","color":"#222","thickness":1.3,"size":12},"encoding":{"y":{"field":"hi","type":"quantitative"}}},
      {"mark":{"type":"bar","width":25,"stroke":"#222","strokeWidth":1.3},"encoding":{"y":{"field":"q1","type":"quantitative"},"y2":{"field":"q3"},"fill":{"field":"diet","type":"nominal","scale":{"domain":["Control","Broccoli"],"range":["#ffffff","#0a9646"]},"legend":null}}},
      {"mark":{"type":"tick","color":"#222","thickness":1.3,"size":25},"encoding":{"y":{"field":"med","type":"quantitative"}}},
      {"data":{"values":[{"a":"Control","b":"Broccoli","y":0.141,"s":"**"}]},"layer":[
       {"mark":{"type":"rule","color":"#333","strokeWidth":1},"encoding":{"x":{"field":"a","type":"nominal"},"x2":{"field":"b"},"y":{"field":"y","type":"quantitative"}}},
       {"mark":{"type":"tick","orient":"vertical","color":"#333","thickness":1,"size":6},"encoding":{"x":{"field":"a","type":"nominal"},"y":{"field":"y","type":"quantitative"}}},
       {"mark":{"type":"tick","orient":"vertical","color":"#333","thickness":1,"size":6},"encoding":{"x":{"field":"b","type":"nominal"},"y":{"field":"y","type":"quantitative"}}},
       {"mark":{"type":"text","fontSize":10,"fontWeight":"bold","color":"#333","baseline":"alphabetic","dy":3},"encoding":{"x":{"field":"a","type":"nominal","bandPosition":1.2143},"y":{"field":"y","type":"quantitative"},"text":{"field":"s"}}}
      ]}
     ]},
    {"width":84,"height":107,
     "data":{"values":[{"diet":"Control","lo":0.63,"q1":0.94,"med":1.72,"q3":2.29,"hi":2.41},{"diet":"Broccoli","lo":0.94,"q1":1.87,"med":3.84,"q3":6.19,"hi":7.97}]},
     "encoding":{"x":{"field":"diet","type":"nominal","scale":{"domain":["Control","Broccoli"],"paddingInner":0.3,"paddingOuter":0.35,"align":0.704},"axis":{"title":"Alistipes"}}},
     "layer":[
      {"mark":{"type":"rule","color":"#222","strokeWidth":1.3},"encoding":{"y":{"field":"lo","type":"quantitative","scale":{"domain":[0,10],"nice":false,"zero":false},"axis":{"values":[0,2,4,6,8,10],"tickCount":12,"format":"d","title":null,"labelOverlap":false}},"y2":{"field":"hi"}}},
      {"mark":{"type":"tick","color":"#222","thickness":1.3,"size":12},"encoding":{"y":{"field":"lo","type":"quantitative"}}},
      {"mark":{"type":"tick","color":"#222","thickness":1.3,"size":12},"encoding":{"y":{"field":"hi","type":"quantitative"}}},
      {"mark":{"type":"bar","width":25,"stroke":"#222","strokeWidth":1.3},"encoding":{"y":{"field":"q1","type":"quantitative"},"y2":{"field":"q3"},"fill":{"field":"diet","type":"nominal","scale":{"domain":["Control","Broccoli"],"range":["#ffffff","#0a9646"]},"legend":null}}},
      {"mark":{"type":"tick","color":"#222","thickness":1.3,"size":25},"encoding":{"y":{"field":"med","type":"quantitative"}}},
      {"data":{"values":[{"a":"Control","b":"Broccoli","y":8.75,"s":"*"}]},"layer":[
       {"mark":{"type":"rule","color":"#333","strokeWidth":1},"encoding":{"x":{"field":"a","type":"nominal"},"x2":{"field":"b"},"y":{"field":"y","type":"quantitative"}}},
       {"mark":{"type":"tick","orient":"vertical","color":"#333","thickness":1,"size":6},"encoding":{"x":{"field":"a","type":"nominal"},"y":{"field":"y","type":"quantitative"}}},
       {"mark":{"type":"tick","orient":"vertical","color":"#333","thickness":1,"size":6},"encoding":{"x":{"field":"b","type":"nominal"},"y":{"field":"y","type":"quantitative"}}},
       {"mark":{"type":"text","fontSize":10,"fontWeight":"bold","color":"#333","baseline":"alphabetic","dy":3},"encoding":{"x":{"field":"a","type":"nominal","bandPosition":1.2143},"y":{"field":"y","type":"quantitative"},"text":{"field":"s"}}}
      ]}
     ]}
   ]},
   {"resolve":{"scale":{"color":"independent","fill":"independent","shape":"independent"},"legend":{"color":"independent","fill":"independent","shape":"independent"}},"spacing":-1,"hconcat":[
    {"width":81,"height":107,
     "data":{"values":[{"diet":"Control","lo":6.6,"q1":10.0,"med":18.25,"q3":34.1,"hi":37.6},{"diet":"Broccoli","lo":2.25,"q1":3.25,"med":5.4,"q3":6.25,"hi":11.0}]},
     "encoding":{"x":{"field":"diet","type":"nominal","scale":{"domain":["Control","Broccoli"],"paddingInner":0.3,"paddingOuter":0.284,"align":0.384},"axis":{"title":"Erysipelotrichaceae"}}},
     "layer":[
      {"mark":{"type":"rule","color":"#222","strokeWidth":1.3},"encoding":{"y":{"field":"lo","type":"quantitative","scale":{"domain":[0,40],"nice":false,"zero":false},"axis":{"values":[0,8,16,24,32,40],"tickCount":12,"format":"d","title":"Relative 16S Abundance (%)","labelOverlap":false}},"y2":{"field":"hi"}}},
      {"mark":{"type":"tick","color":"#222","thickness":1.3,"size":12},"encoding":{"y":{"field":"lo","type":"quantitative"}}},
      {"mark":{"type":"tick","color":"#222","thickness":1.3,"size":12},"encoding":{"y":{"field":"hi","type":"quantitative"}}},
      {"mark":{"type":"bar","width":25,"stroke":"#222","strokeWidth":1.3},"encoding":{"y":{"field":"q1","type":"quantitative"},"y2":{"field":"q3"},"fill":{"field":"diet","type":"nominal","scale":{"domain":["Control","Broccoli"],"range":["#ffffff","#0a9646"]},"legend":null}}},
      {"mark":{"type":"tick","color":"#222","thickness":1.3,"size":25},"encoding":{"y":{"field":"med","type":"quantitative"}}},
      {"data":{"values":[{"a":"Control","b":"Broccoli","y":40.3,"s":"**"}]},"layer":[
       {"mark":{"type":"rule","color":"#333","strokeWidth":1},"encoding":{"x":{"field":"a","type":"nominal"},"x2":{"field":"b"},"y":{"field":"y","type":"quantitative"}}},
       {"mark":{"type":"tick","orient":"vertical","color":"#333","thickness":1,"size":6},"encoding":{"x":{"field":"a","type":"nominal"},"y":{"field":"y","type":"quantitative"}}},
       {"mark":{"type":"tick","orient":"vertical","color":"#333","thickness":1,"size":6},"encoding":{"x":{"field":"b","type":"nominal"},"y":{"field":"y","type":"quantitative"}}},
       {"mark":{"type":"text","fontSize":10,"fontWeight":"bold","color":"#333","baseline":"alphabetic","dy":3},"encoding":{"x":{"field":"a","type":"nominal","bandPosition":1.2143},"y":{"field":"y","type":"quantitative"},"text":{"field":"s"}}}
      ]}
     ]},
    {"width":66,"height":107,
     "data":{"values":[{"diet":"Control","lo":0.0025,"q1":0.0034,"med":0.138,"q3":0.596,"hi":0.717},{"diet":"Broccoli","lo":0.0013,"q1":0.0013,"med":0.0034,"q3":0.0159,"hi":0.0325}]},
     "encoding":{"x":{"field":"diet","type":"nominal","scale":{"domain":["Control","Broccoli"],"paddingInner":0.3,"paddingOuter":0.085,"align":0.55},"axis":{"title":"Parasutterella"}}},
     "layer":[
      {"mark":{"type":"rule","color":"#222","strokeWidth":1.3},"encoding":{"y":{"field":"lo","type":"quantitative","scale":{"domain":[0,0.043,0.057,0.8],"range":[107,72.3,65.7,0],"nice":false,"zero":false},"axis":{"values":[0,0.04,0.2,0.4,0.6,0.8],"tickCount":12,"labelExpr":"datum.value < 0.1 ? format(datum.value, '.2f') : format(datum.value, '.1f')","title":" ","titlePadding":3,"labelOverlap":false}},"y2":{"field":"hi"}}},
      {"mark":{"type":"tick","color":"#222","thickness":1.3,"size":12},"encoding":{"y":{"field":"lo","type":"quantitative"}}},
      {"mark":{"type":"tick","color":"#222","thickness":1.3,"size":12},"encoding":{"y":{"field":"hi","type":"quantitative"}}},
      {"mark":{"type":"bar","width":25,"stroke":"#222","strokeWidth":1.3},"encoding":{"y":{"field":"q1","type":"quantitative"},"y2":{"field":"q3"},"fill":{"field":"diet","type":"nominal","scale":{"domain":["Control","Broccoli"],"range":["#ffffff","#0a9646"]},"legend":null}}},
      {"mark":{"type":"tick","color":"#222","thickness":1.3,"size":25},"encoding":{"y":{"field":"med","type":"quantitative"}}},
      {"data":{"values":[{"a":"Control","b":"Broccoli","y":0.79,"s":"*"}]},"layer":[
       {"mark":{"type":"rule","color":"#333","strokeWidth":1},"encoding":{"x":{"field":"a","type":"nominal"},"x2":{"field":"b"},"y":{"field":"y","type":"quantitative"}}},
       {"mark":{"type":"tick","orient":"vertical","color":"#333","thickness":1,"size":6},"encoding":{"x":{"field":"a","type":"nominal"},"y":{"field":"y","type":"quantitative"}}},
       {"mark":{"type":"tick","orient":"vertical","color":"#333","thickness":1,"size":6},"encoding":{"x":{"field":"b","type":"nominal"},"y":{"field":"y","type":"quantitative"}}},
       {"mark":{"type":"text","fontSize":10,"fontWeight":"bold","color":"#333","baseline":"alphabetic","dy":3},"encoding":{"x":{"field":"a","type":"nominal","bandPosition":1.2143},"y":{"field":"y","type":"quantitative"},"text":{"field":"s"}}}
      ]}
     ]},
    {"width":75,"height":107,
     "data":{"values":[{"diet":"Control","lo":0.0505,"q1":0.0876,"med":0.140,"q3":0.2145,"hi":0.269},{"diet":"Broccoli","lo":0.0144,"q1":0.0197,"med":0.0417,"q3":0.058,"hi":0.1565}]},
     "encoding":{"x":{"field":"diet","type":"nominal","scale":{"domain":["Control","Broccoli"],"paddingInner":0.3,"paddingOuter":0.206,"align":0.776},"axis":{"title":"Lactobacillus"}}},
     "layer":[
      {"mark":{"type":"rule","color":"#222","strokeWidth":1.3},"encoding":{"y":{"field":"lo","type":"quantitative","scale":{"domain":[0,0.35],"nice":false,"zero":false},"axis":{"values":[0,0.07,0.14,0.21,0.28,0.35],"tickCount":12,"format":".2f","title":null,"labelOverlap":false}},"y2":{"field":"hi"}}},
      {"mark":{"type":"tick","color":"#222","thickness":1.3,"size":12},"encoding":{"y":{"field":"lo","type":"quantitative"}}},
      {"mark":{"type":"tick","color":"#222","thickness":1.3,"size":12},"encoding":{"y":{"field":"hi","type":"quantitative"}}},
      {"mark":{"type":"bar","width":25,"stroke":"#222","strokeWidth":1.3},"encoding":{"y":{"field":"q1","type":"quantitative"},"y2":{"field":"q3"},"fill":{"field":"diet","type":"nominal","scale":{"domain":["Control","Broccoli"],"range":["#ffffff","#0a9646"]},"legend":null}}},
      {"mark":{"type":"tick","color":"#222","thickness":1.3,"size":25},"encoding":{"y":{"field":"med","type":"quantitative"}}},
      {"data":{"values":[{"a":"Control","b":"Broccoli","y":0.30,"s":"**"}]},"layer":[
       {"mark":{"type":"rule","color":"#333","strokeWidth":1},"encoding":{"x":{"field":"a","type":"nominal"},"x2":{"field":"b"},"y":{"field":"y","type":"quantitative"}}},
       {"mark":{"type":"tick","orient":"vertical","color":"#333","thickness":1,"size":6},"encoding":{"x":{"field":"a","type":"nominal"},"y":{"field":"y","type":"quantitative"}}},
       {"mark":{"type":"tick","orient":"vertical","color":"#333","thickness":1,"size":6},"encoding":{"x":{"field":"b","type":"nominal"},"y":{"field":"y","type":"quantitative"}}},
       {"mark":{"type":"text","fontSize":10,"fontWeight":"bold","color":"#333","baseline":"alphabetic","dy":3},"encoding":{"x":{"field":"a","type":"nominal","bandPosition":1.2143},"y":{"field":"y","type":"quantitative"},"text":{"field":"s"}}}
      ]}
     ]}
   ]}
  ]}
 ]}
]}
]
}
